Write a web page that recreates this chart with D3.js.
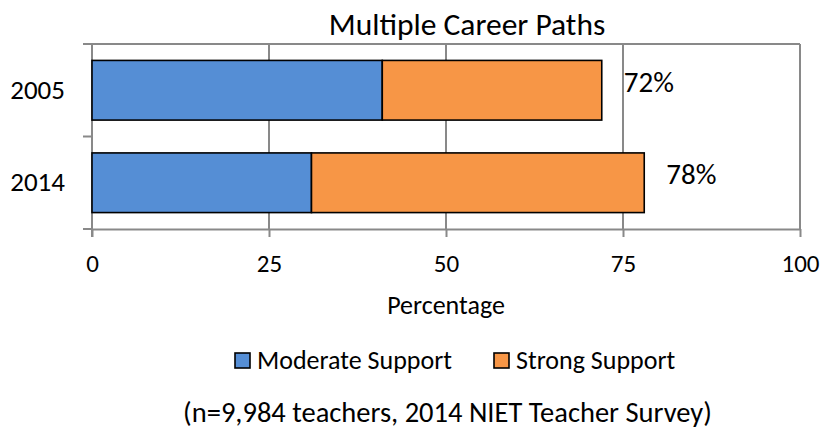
<!DOCTYPE html>
<html>
<head>
<meta charset="utf-8">
<script src="https://cdn.jsdelivr.net/npm/d3@7"></script>
<style>
  body { margin: 0; background: #fff; }
  svg text { font-family: Carlito, Calibri, Lato, sans-serif; fill: #000; }
</style>
</head>
<body>
<div class="chart"></div>
<script>
// chart data
var categories = ["2005", "2014"];
var moderate = [41, 31];
var strong = [31, 47];
var seriesNames = ["Moderate Support", "Strong Support"];
var seriesColors = ["#558ED5", "#F79646"];
var xTicks = [0, 25, 50, 75, 100];

var svgWidth = 823;
var svgHeight = 431;

var margin = { top: 44, right: 23, bottom: 202, left: 92 };
var width = svgWidth - margin.left - margin.right;
var height = svgHeight - margin.top - margin.bottom;

var svg = d3.select(".chart")
  .append("svg")
  .attr("width", svgWidth)
  .attr("height", svgHeight);

var chartGroup = svg.append("g")
  .attr("transform", `translate(${margin.left}, ${margin.top})`);

// scales
var xScale = d3.scaleLinear().domain([0, 100]).range([0, width]);
var yScale = d3.scaleBand()
  .domain(categories)
  .range([0, height])
  .paddingInner(0.355)
  .paddingOuter(0.1775);

var gridColor = "#898989";

// gridlines
chartGroup.selectAll(".grid")
  .data(xTicks.slice(1))
  .enter()
  .append("line")
  .attr("x1", d => xScale(d))
  .attr("x2", d => xScale(d))
  .attr("y1", 0)
  .attr("y2", height)
  .attr("stroke", gridColor)
  .attr("stroke-width", 2);

// top border
chartGroup.append("line")
  .attr("x1", 0).attr("x2", width)
  .attr("y1", 0).attr("y2", 0)
  .attr("stroke", gridColor)
  .attr("stroke-width", 2);

// bottom axis
var bottomAxis = d3.axisBottom(xScale)
  .tickValues(xTicks)
  .tickSize(8)
  .tickSizeOuter(0)
  .tickPadding(17);

var xAxisG = chartGroup.append("g")
  .attr("transform", `translate(0, ${height})`)
  .call(bottomAxis);
xAxisG.selectAll("path, line").attr("stroke", gridColor).attr("stroke-width", 2);
xAxisG.selectAll("text")
  .style("font-size", "25px")
  .style("font-family", "Carlito, Calibri, Lato, sans-serif")
  .attr("fill", "#000");

// left category axis (line + ticks between categories)
chartGroup.append("line")
  .attr("x1", 0).attr("x2", 0)
  .attr("y1", 0).attr("y2", height + 8)
  .attr("stroke", gridColor)
  .attr("stroke-width", 2);

var step = yScale.step();
chartGroup.selectAll(".ytick")
  .data(d3.range(categories.length + 1))
  .enter()
  .append("line")
  .attr("x1", -9).attr("x2", 0)
  .attr("y1", i => i * step)
  .attr("y2", i => i * step)
  .attr("stroke", gridColor)
  .attr("stroke-width", 2);

chartGroup.selectAll(".ylabel")
  .data(categories)
  .enter()
  .append("text")
  .attr("x", -27)
  .attr("y", d => yScale(d) + yScale.bandwidth() / 2)
  .attr("dy", "0.32em")
  .attr("text-anchor", "end")
  .style("font-size", "27px")
  .text(d => d);

// stacked bars
var rows = categories.map((c, i) => ({ cat: c, values: [moderate[i], strong[i]] }));

rows.forEach(function(row) {
  var x0 = 0;
  row.values.forEach(function(v, j) {
    chartGroup.append("rect")
      .attr("x", xScale(x0))
      .attr("y", yScale(row.cat))
      .attr("width", xScale(x0 + v) - xScale(x0))
      .attr("height", yScale.bandwidth())
      .attr("fill", seriesColors[j])
      .attr("stroke", "#000")
      .attr("stroke-width", 1.6);
    x0 += v;
  });
  // total label
  chartGroup.append("text")
    .attr("x", xScale(x0) + 22)
    .attr("y", yScale(row.cat) + yScale.bandwidth() / 2 + 1.5)
    .style("font-size", "29px")
    .text(x0 + "%");
});

// title
svg.append("text")
  .attr("x", 467)
  .attr("y", 35)
  .attr("text-anchor", "middle")
  .style("font-size", "31.5px")
  .text("Multiple Career Paths");

// axis title
svg.append("text")
  .attr("x", margin.left + width / 2)
  .attr("y", 314)
  .attr("text-anchor", "middle")
  .style("font-size", "26px")
  .text("Percentage");

// legend
var legendX = [234, 493];
var legend = svg.selectAll(".legend")
  .data(seriesNames)
  .enter()
  .append("g")
  .attr("transform", (d, i) => `translate(${legendX[i]}, 352)`);

legend.append("rect")
  .attr("x", 1).attr("y", 1)
  .attr("width", 15).attr("height", 15)
  .attr("fill", (d, i) => seriesColors[i])
  .attr("stroke", "#000")
  .attr("stroke-width", 1.6);

legend.append("text")
  .attr("x", 23)
  .attr("y", 16.5)
  .style("font-size", "26px")
  .text(d => d);

// footnote
svg.append("text")
  .attr("x", 447.5)
  .attr("y", 422)
  .attr("text-anchor", "middle")
  .style("font-size", "28.5px")
  .text("(n=9,984 teachers, 2014 NIET Teacher Survey)");
</script>
</body>
</html>
